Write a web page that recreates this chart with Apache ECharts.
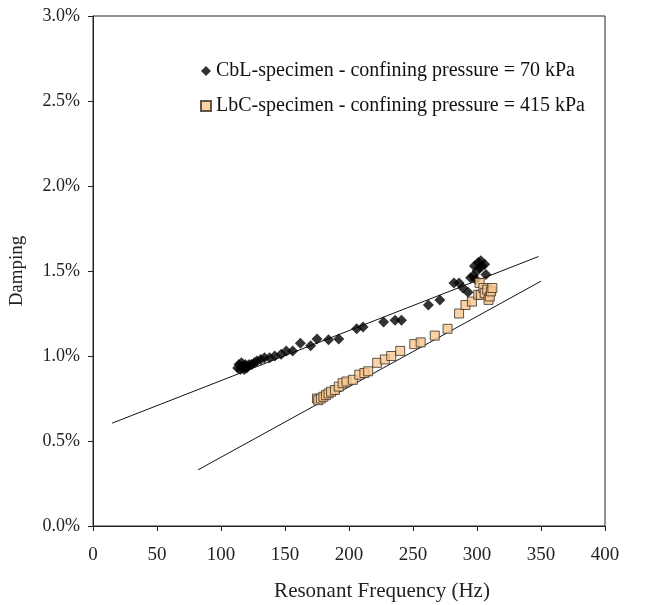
<!DOCTYPE html>
<html>
<head>
<meta charset="utf-8">
<script src="https://cdn.jsdelivr.net/npm/echarts@6/dist/echarts.min.js"></script>
<style>
  html, body { margin: 0; padding: 0; background: #fff; }
  #chart { width: 669px; height: 605px; }
</style>
</head>
<body>
<div id="chart"></div>
<script>
// CbL specimen, 70 kPa: [frequency Hz, damping %]
var cblPoints = [
    [113, 0.93], [114, 0.95], [115, 0.92], [116, 0.96], [117, 0.94], [118, 0.92],
    [119, 0.95], [120, 0.93], [121, 0.94], [122, 0.95], [124, 0.95], [126, 0.96],
    [128, 0.97], [131, 0.98], [134, 0.99], [138, 0.99], [142, 1.00], [147, 1.01],
    [151, 1.03], [156, 1.03], [162, 1.075], [170, 1.06], [175, 1.10], [184, 1.095],
    [192, 1.10], [206, 1.16], [211, 1.17], [227, 1.20], [236, 1.21], [241, 1.21],
    [262, 1.30], [271, 1.33], [282, 1.43], [286, 1.43], [289, 1.40], [293, 1.375],
    [295, 1.46], [297, 1.47], [298, 1.53], [299, 1.45], [300, 1.50], [301, 1.55],
    [302, 1.52], [303, 1.56], [304, 1.53], [306, 1.54], [307, 1.48]
];

// LbC specimen, 415 kPa
var lbcPoints = [
    [175, 0.75], [176, 0.74], [178, 0.75], [180, 0.76], [182, 0.77], [184, 0.78],
    [186, 0.79], [189, 0.80], [192, 0.82], [195, 0.84], [198, 0.85], [203, 0.86],
    [208, 0.89], [212, 0.90], [215, 0.91], [222, 0.96], [228, 0.98], [233, 1.00],
    [240, 1.03], [251, 1.07], [256, 1.08], [267, 1.12], [277, 1.16], [286, 1.25],
    [291, 1.30], [296, 1.32], [301, 1.36], [302, 1.43], [303, 1.36], [305, 1.40],
    [306, 1.37], [308, 1.39], [309, 1.33], [310, 1.35], [311, 1.38], [312, 1.40]
];

// trend lines (end points)
var cblTrend = [[15, 0.605], [348, 1.585]];
var lbcTrend = [[82, 0.33], [350, 1.44]];

var xTicks = { min: 0, max: 400, interval: 50 };
var yTicks = { min: 0, max: 3, interval: 0.5 };

var cblName = 'CbL-specimen - confining pressure = 70 kPa';
var lbcName = 'LbC-specimen - confining pressure = 415 kPa';

function createViz() {
    var myChart = echarts.init(document.getElementById('chart'));
    var font = 'Liberation Serif';

    var option = {
        animation: false,
        textStyle: { fontFamily: font },
        grid: {
            left: 93, right: 64, top: 16, bottom: 79,
            outerBoundsMode: 'none',
            show: true, borderColor: '#222', borderWidth: 1
        },
        legend: {
            orient: 'vertical',
            left: 195, top: 56,
            itemGap: 15,
            itemWidth: 10, itemHeight: 10,
            textStyle: { fontFamily: font, fontSize: 20, color: '#111' },
            data: [
                { name: cblName, icon: 'diamond' },
                { name: lbcName, icon: 'rect' }
            ]
        },
        xAxis: {
            type: 'value',
            min: xTicks.min, max: xTicks.max, interval: xTicks.interval,
            name: 'Resonant Frequency (Hz)',
            nameLocation: 'middle', nameGap: 55,
            nameTextStyle: { fontFamily: font, fontSize: 21, color: '#222', padding: [0, 0, 0, 66] },
            axisLine: { onZero: false, lineStyle: { color: '#222', width: 1 } },
            axisTick: { inside: false, length: 5, lineStyle: { color: '#222' } },
            axisLabel: { fontFamily: font, fontSize: 19, color: '#222', margin: 20 },
            splitLine: { show: false }
        },
        yAxis: {
            type: 'value',
            min: yTicks.min, max: yTicks.max, interval: yTicks.interval,
            name: 'Damping',
            nameLocation: 'middle', nameGap: 66,
            nameTextStyle: { fontFamily: font, fontSize: 19, color: '#222' },
            axisLine: { show: true, lineStyle: { color: '#222', width: 1 } },
            axisTick: { show: true, length: 5, lineStyle: { color: '#222' } },
            axisLabel: {
                fontFamily: font, fontSize: 18, color: '#222', margin: 13,
                formatter: function (v) { return v.toFixed(1) + '%'; }
            },
            splitLine: { show: false }
        },
        series: [
            {
                name: 'cblTrend',
                type: 'line',
                data: cblTrend,
                symbol: 'none',
                lineStyle: { color: '#111', width: 1 },
                silent: true,
                z: 1
            },
            {
                name: 'lbcTrend',
                type: 'line',
                data: lbcTrend,
                symbol: 'none',
                lineStyle: { color: '#111', width: 1 },
                silent: true,
                z: 1
            },
            {
                name: cblName,
                type: 'scatter',
                data: cblPoints,
                symbol: 'diamond',
                symbolSize: 11,
                itemStyle: { color: '#000' },
                z: 3
            },
            {
                name: lbcName,
                type: 'scatter',
                data: lbcPoints,
                symbol: 'rect',
                symbolSize: 9,
                itemStyle: { color: '#f9c78e', borderColor: '#3a3026', borderWidth: 1 },
                z: 3
            }
        ]
    };

    myChart.setOption(option);
}

createViz();
</script>
</body>
</html>
